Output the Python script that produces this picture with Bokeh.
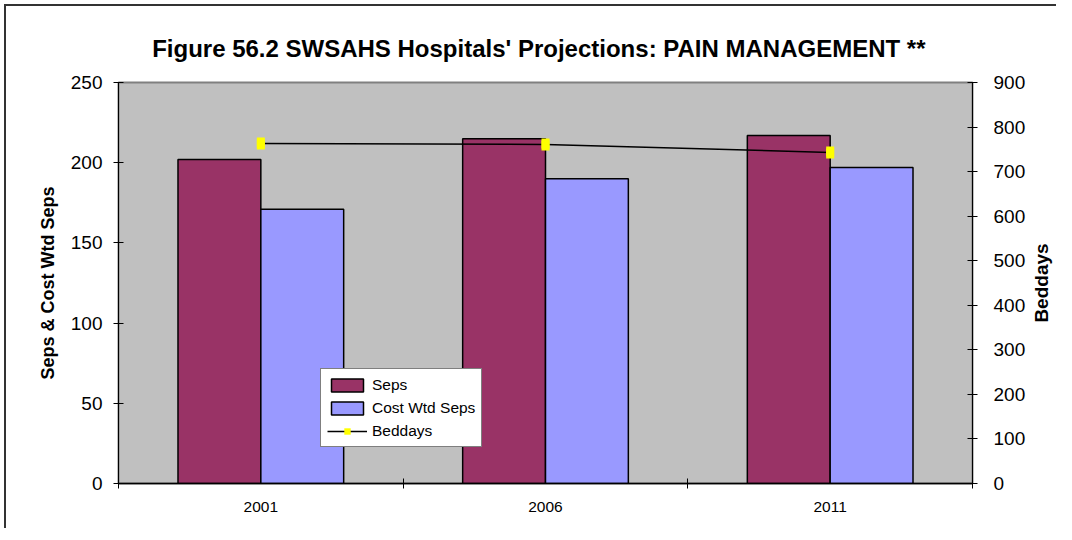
import math
from bokeh.plotting import figure
from bokeh.layouts import row
from bokeh.models import Range1d, LinearAxis, FixedTicker, Legend, LegendItem, ColumnDataSource
from bokeh.core.properties import value
from bokeh.embed import file_html
from bokeh.resources import INLINE

years = ["2001", "2006", "2011"]
seps = [202, 215, 217]
cost_wtd_seps = [171, 190, 197]
beddays = [763, 761, 743]

FONT = "Liberation Sans"
BAR_W = 0.291

xc = [i + 0.5 for i in range(len(years))]
src = ColumnDataSource(dict(
    xc=xc,
    x_seps=[c - BAR_W / 2 for c in xc],
    x_cost=[c + BAR_W / 2 for c in xc],
    seps=seps, cost=cost_wtd_seps, beddays=beddays,
))

p = figure(width=1022, height=524, output_backend="svg", toolbar_location=None,
           x_range=Range1d(0, len(years)), y_range=Range1d(0, 250),
           min_border_left=112, min_border_right=55, min_border_top=76, min_border_bottom=47)
p.margin = (4, 0, 0, 4)
p.styles = {"border-left": "2px solid #333", "border-top": "2px solid #333"}

p.title.text = "Figure 56.2  SWSAHS Hospitals' Projections:  PAIN MANAGEMENT **"
p.title.text_font = FONT
p.title.text_font_size = "24px"
p.title.text_font_style = "bold"
p.title.text_color = "black"
p.title.align = "center"
p.title.standoff = 42

p.background_fill_color = "#C0C0C0"
p.border_fill_color = "white"
p.outline_line_color = "#808080"
p.outline_line_width = 2
p.xgrid.visible = False
p.ygrid.visible = False

p.extra_y_ranges = {"bed": Range1d(0, 900)}

# bars
r_seps = p.vbar(x="x_seps", top="seps", width=BAR_W, source=src,
                fill_color="#993366", line_color="black", line_width=1.5)
r_cost = p.vbar(x="x_cost", top="cost", width=BAR_W, source=src,
                fill_color="#9999FF", line_color="black", line_width=1.5)
r_line = p.line(x="xc", y="beddays", source=src, y_range_name="bed",
                line_color="black", line_width=1.5)
r_sq = p.scatter(x="xc", y="beddays", source=src, y_range_name="bed",
                 marker="square", size=8, fill_color="#FFFF00", line_color=None)
r_mark = p.rect(x="xc", y="beddays", source=src, y_range_name="bed",
                width=8, height=12, width_units="screen", height_units="screen",
                fill_color="#FFFF00", line_color=None)

# x axis
xa = p.xaxis[0]
xa.ticker = FixedTicker(ticks=xc, minor_ticks=list(range(len(years) + 1)))
xa.major_label_overrides = {c: y for c, y in zip(xc, years)}
xa.major_tick_in = 0
xa.major_tick_out = 0
xa.minor_tick_in = 5
xa.minor_tick_out = 5
xa.minor_tick_line_color = "black"
xa.axis_line_color = "black"
xa.axis_line_width = 1.5
xa.major_label_text_font = FONT
xa.major_label_text_font_size = "15.5px"
xa.major_label_text_color = "black"
xa.major_label_standoff = 13

# left axis
ya = p.yaxis[0]
ya.ticker = FixedTicker(ticks=[0, 50, 100, 150, 200, 250])
ya.minor_tick_line_color = None
ya.major_tick_in = 5
ya.major_tick_out = 5
ya.axis_line_color = "black"
ya.major_label_text_font = FONT
ya.major_label_text_font_size = "19px"
ya.major_label_text_color = "black"
ya.major_label_standoff = 11
ya.axis_label = "Seps & Cost Wtd Seps"
ya.axis_label_text_font = FONT
ya.axis_label_text_font_size = "18px"
ya.axis_label_text_font_style = "bold"
ya.axis_label_text_color = "black"
ya.axis_label_standoff = 10

# right axis
ra = LinearAxis(y_range_name="bed", ticker=FixedTicker(ticks=list(range(0, 901, 100))))
ra.minor_tick_line_color = None
ra.major_tick_in = 5
ra.major_tick_out = 5
ra.axis_line_color = "black"
ra.major_label_text_font = FONT
ra.major_label_text_font_size = "19px"
ra.major_label_text_color = "black"
ra.major_label_standoff = 16
p.add_layout(ra, "right")

legend = Legend(items=[
    LegendItem(label="Seps", renderers=[r_seps]),
    LegendItem(label="Cost Wtd Seps", renderers=[r_cost]),
    LegendItem(label="Beddays", renderers=[r_line, r_sq]),
], location=(202, 36))
legend.margin = 0
legend.padding = 6
legend.spacing = 4
legend.label_height = 19
legend.glyph_height = 16
legend.glyph_width = 40
legend.label_standoff = 5
legend.label_text_font = FONT
legend.label_text_font_size = "15.5px"
legend.label_text_color = "black"
legend.border_line_color = "black"
legend.border_line_width = 1
legend.background_fill_color = "white"
legend.background_fill_alpha = 1
p.add_layout(legend, "center")

# right-hand axis title, drawn in a narrow companion panel (reads bottom-to-top)
p2 = figure(width=30, height=524, output_backend="svg", toolbar_location=None,
            x_range=Range1d(0, 1), y_range=Range1d(0, 1),
            x_axis_location=None, y_axis_location=None,
            min_border_left=0, min_border_right=0, min_border_top=76, min_border_bottom=47)
p2.margin = (4, 0, 0, 0)
p2.styles = {"border-top": "2px solid #333"}
p2.outline_line_color = None
p2.background_fill_color = "white"
p2.border_fill_color = "white"
p2.xgrid.visible = False
p2.ygrid.visible = False
p2.text(x=[0.5], y=[0.5], text=["Beddays"], angle=math.pi / 2,
        text_align="center", text_baseline="middle",
        text_font=value(FONT), text_font_size="19px", text_font_style="bold",
        text_color="black")

layout = row(p, p2, spacing=0)
open("out.html", "w").write(file_html(layout, INLINE))
